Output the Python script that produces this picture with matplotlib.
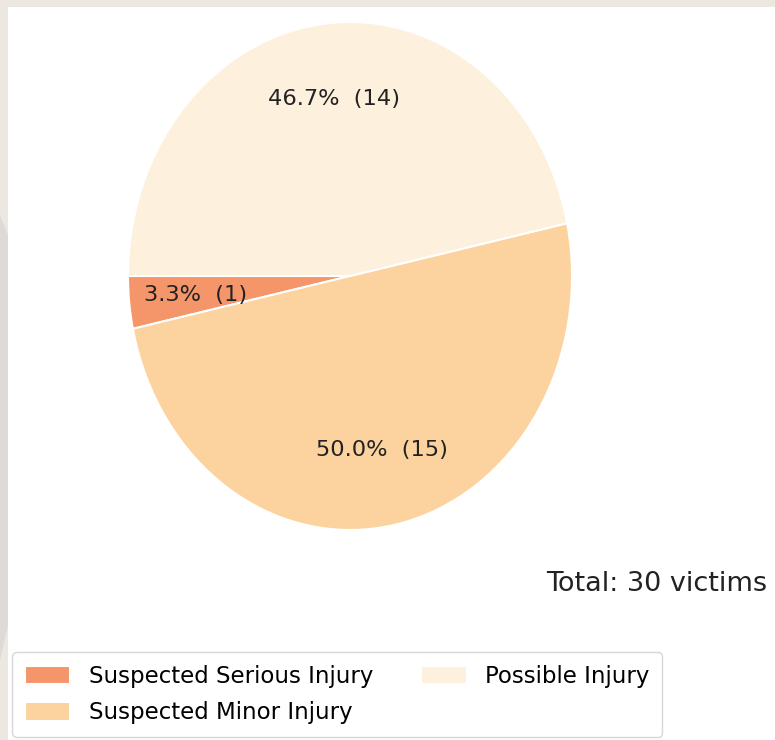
import numpy as np
import matplotlib
import matplotlib.pyplot as plt
from matplotlib.patches import Rectangle, Polygon

matplotlib.use("Agg")

# data
labels = ['Suspected Serious Injury', 'Suspected Minor Injury', 'Possible Injury']
counts = [1, 15, 14]
colors = ['#F5956A', '#FCD39E', '#FDF0DC']
total = sum(counts)

W, H = 775, 740
fig = plt.figure(figsize=(W / 100, H / 100), dpi=100, facecolor='#ECE7E1')

# white slide area + faint grey strip on the left edge
fig.patches.append(Rectangle((8 / W, 0), 1 - 8 / W, 1 - 7 / H, transform=fig.transFigure,
                             facecolor='white', edgecolor='none', zorder=-2))
strip = [(0, 215), (8, 235), (8, 625), (0, 660)]
fig.patches.append(Polygon([(x / W, 1 - y / H) for x, y in strip], closed=True,
                           transform=fig.transFigure, facecolor='#DDDAD7',
                           edgecolor='none', zorder=-1))

# pie axes (stretched ellipse as in reference)
ax = fig.add_axes([128 / W, 1 - 530 / H, 444 / W, 508 / H])


def fmt(p):
    return f'{p:.1f}%  ({int(round(p * total / 100))})'


wedges, texts, autotexts = ax.pie(counts, colors=colors, startangle=180,
                                  autopct=fmt, pctdistance=0.7,
                                  wedgeprops=dict(edgecolor='white', linewidth=1.5),
                                  textprops=dict(fontsize=16.2, color='#222222'))
ax.set_aspect('auto')
ax.set_xlim(-1, 1)
ax.set_ylim(-1, 1)
ax.axis('off')

fig.text(767 / W, 1 - 584 / H, f'Total: {total} victims', ha='right', va='center',
         fontsize=19.5, color='#222222')

fig.legend(wedges, labels, ncol=2, loc='lower left', bbox_to_anchor=(12 / W, 3 / H),
           borderaxespad=0, fontsize=16.5, borderpad=0.55, labelspacing=0.6,
           columnspacing=2.1, handlelength=2.0, handleheight=0.85)

plt.savefig('out.png', dpi=100, facecolor=fig.get_facecolor())
